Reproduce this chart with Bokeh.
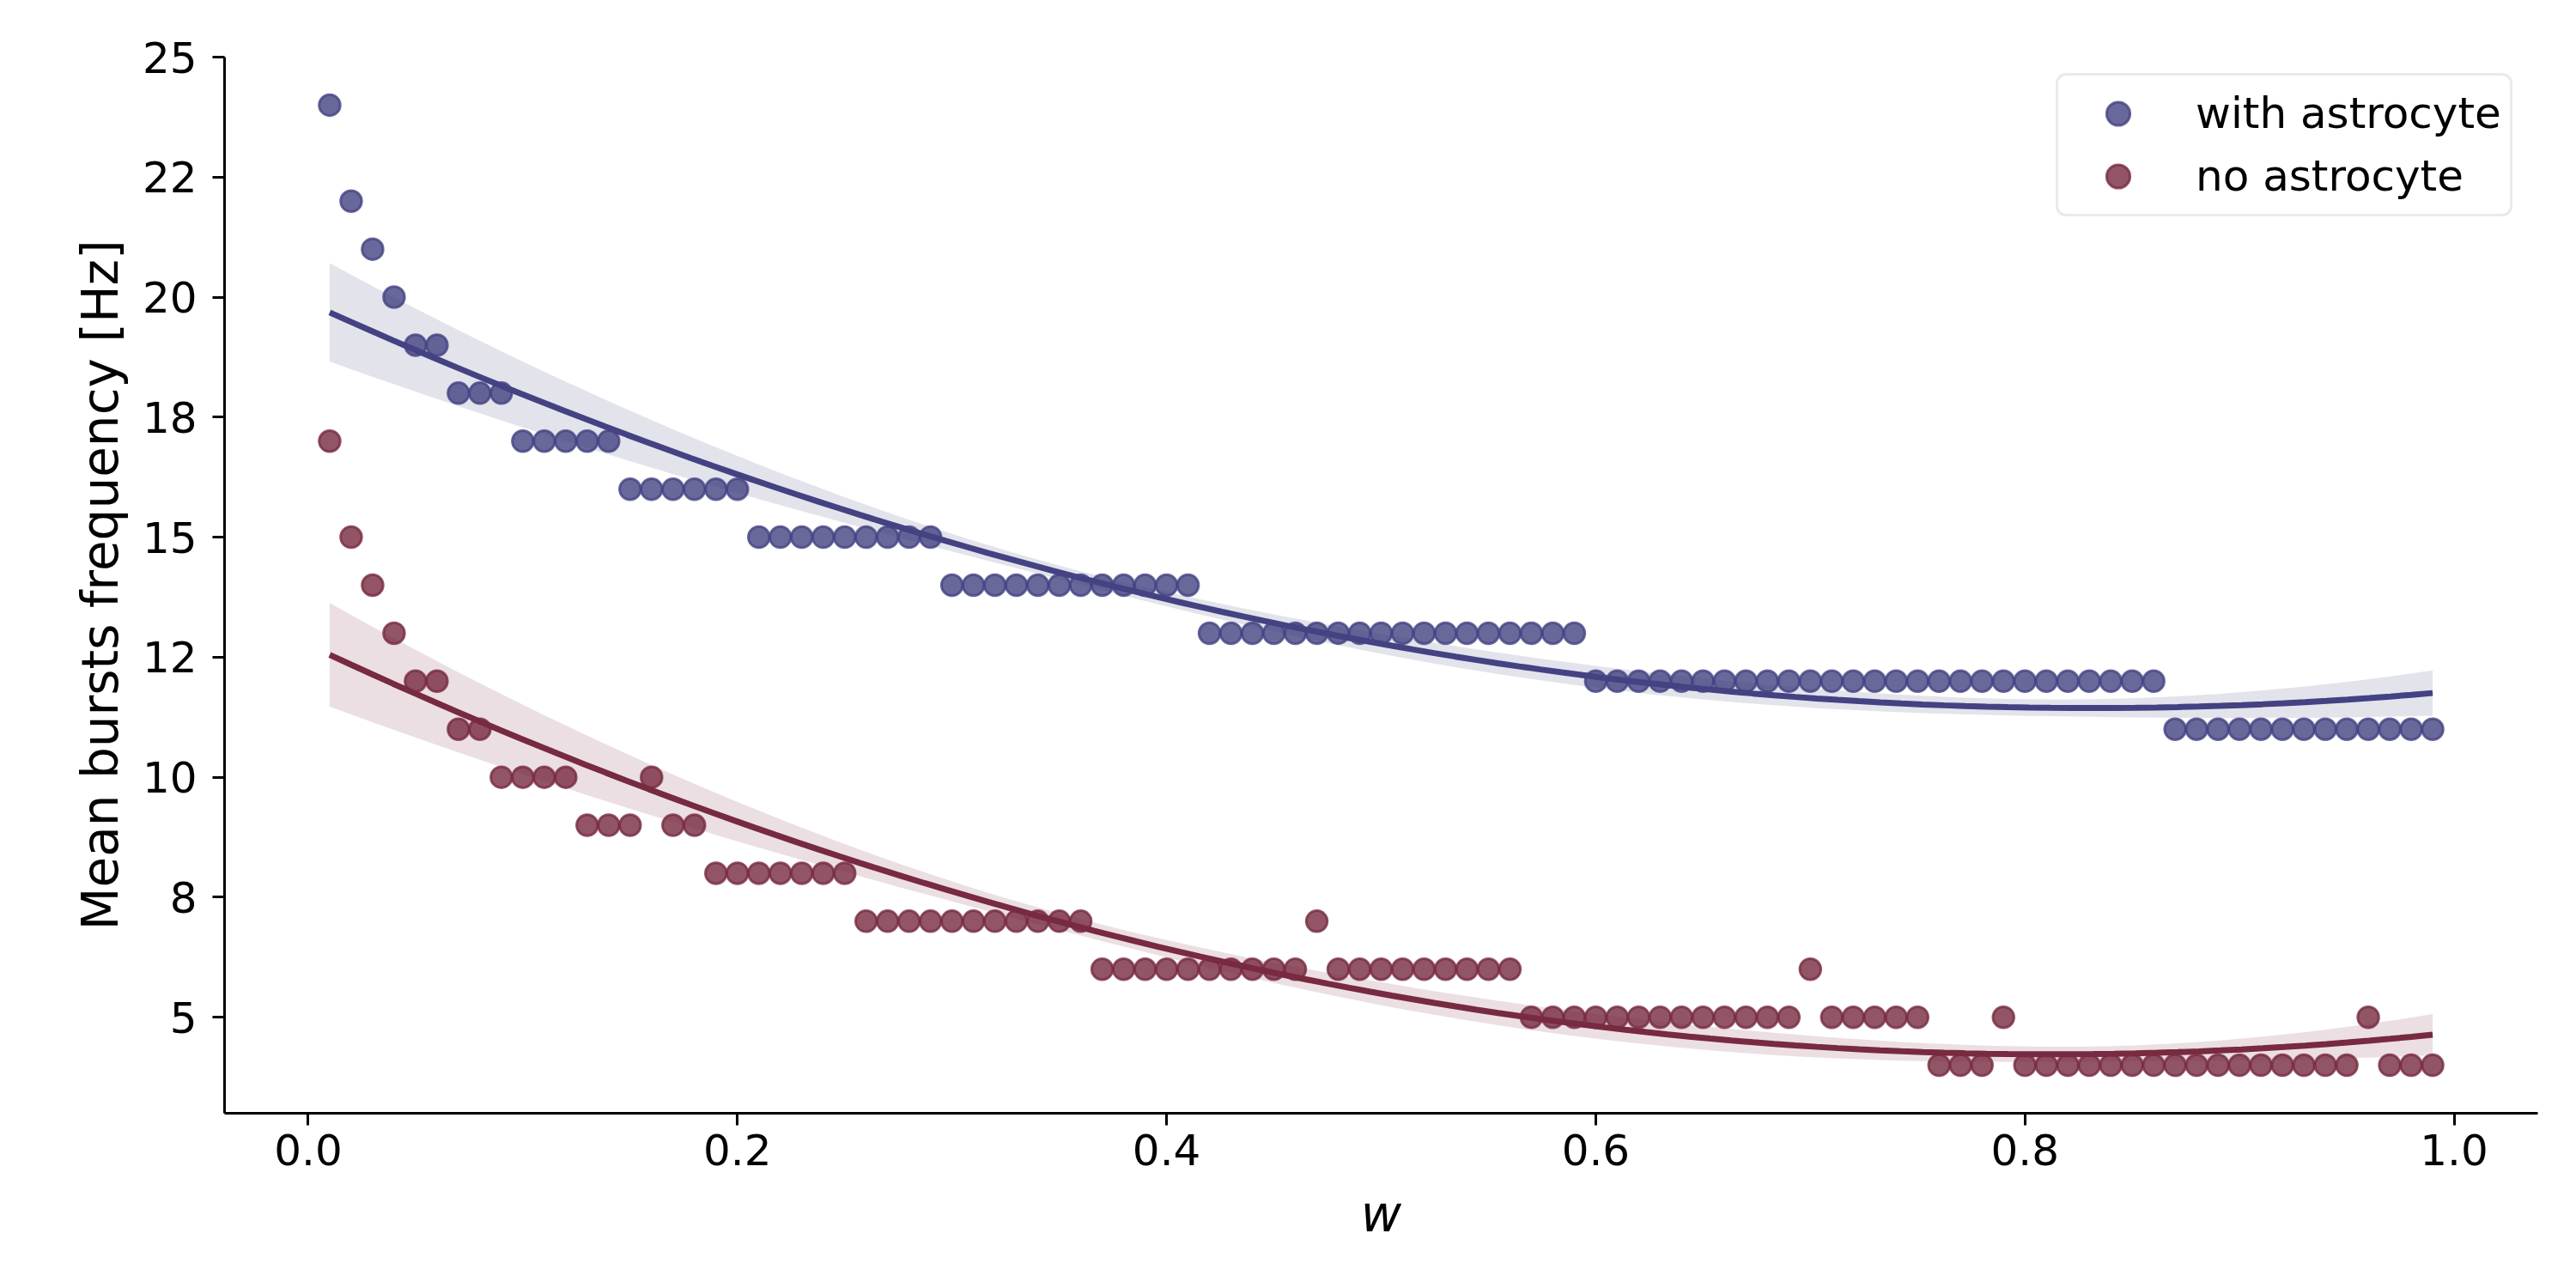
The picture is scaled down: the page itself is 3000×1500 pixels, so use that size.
import numpy as np
from bokeh.plotting import figure
from bokeh.models import FixedTicker, Legend, LegendItem
from bokeh.embed import file_html
from bokeh.resources import INLINE

# ---- data ----
w_values = [0.01, 0.02, 0.03, 0.04, 0.05, 0.06, 0.07, 0.08, 0.09, 0.10,
            0.11, 0.12, 0.13, 0.14, 0.15, 0.16, 0.17, 0.18, 0.19, 0.20,
            0.21, 0.22, 0.23, 0.24, 0.25, 0.26, 0.27, 0.28, 0.29, 0.30,
            0.31, 0.32, 0.33, 0.34, 0.35, 0.36, 0.37, 0.38, 0.39, 0.40,
            0.41, 0.42, 0.43, 0.44, 0.45, 0.46, 0.47, 0.48, 0.49, 0.50,
            0.51, 0.52, 0.53, 0.54, 0.55, 0.56, 0.57, 0.58, 0.59, 0.60,
            0.61, 0.62, 0.63, 0.64, 0.65, 0.66, 0.67, 0.68, 0.69, 0.70,
            0.71, 0.72, 0.73, 0.74, 0.75, 0.76, 0.77, 0.78, 0.79, 0.80,
            0.81, 0.82, 0.83, 0.84, 0.85, 0.86, 0.87, 0.88, 0.89, 0.90,
            0.91, 0.92, 0.93, 0.94, 0.95, 0.96, 0.97, 0.98, 0.99]

freq_with_astro = [24, 22, 21, 20, 19, 19, 18, 18, 18, 17,
                   17, 17, 17, 17, 16, 16, 16, 16, 16, 16,
                   15, 15, 15, 15, 15, 15, 15, 15, 15, 14,
                   14, 14, 14, 14, 14, 14, 14, 14, 14, 14,
                   14, 13, 13, 13, 13, 13, 13, 13, 13, 13,
                   13, 13, 13, 13, 13, 13, 13, 13, 13, 12,
                   12, 12, 12, 12, 12, 12, 12, 12, 12, 12,
                   12, 12, 12, 12, 12, 12, 12, 12, 12, 12,
                   12, 12, 12, 12, 12, 12, 11, 11, 11, 11,
                   11, 11, 11, 11, 11, 11, 11, 11, 11]

freq_no_astro = [17, 15, 14, 13, 12, 12, 11, 11, 10, 10,
                 10, 10, 9, 9, 9, 10, 9, 9, 8, 8,
                 8, 8, 8, 8, 8, 7, 7, 7, 7, 7,
                 7, 7, 7, 7, 7, 7, 6, 6, 6, 6,
                 6, 6, 6, 6, 6, 6, 7, 6, 6, 6,
                 6, 6, 6, 6, 6, 6, 5, 5, 5, 5,
                 5, 5, 5, 5, 5, 5, 5, 5, 5, 6,
                 5, 5, 5, 5, 5, 4, 4, 4, 5, 4,
                 4, 4, 4, 4, 4, 4, 4, 4, 4, 4,
                 4, 4, 4, 4, 4, 5, 4, 4, 4]

series_labels = ["with astrocyte", "no astrocyte"]
series_colors = ["#444282", "#772a40"]

x_ticks = [0.0, 0.2, 0.4, 0.6, 0.8, 1.0]
x_tick_labels = ["0.0", "0.2", "0.4", "0.6", "0.8", "1.0"]
y_ticks = [5, 7.5, 10, 12.5, 15, 17.5, 20, 22.5, 25]
y_tick_labels = ["5", "8", "10", "12", "15", "18", "20", "22", "25"]


def quad_fit(x, y, n_grid=100):
    """Order-2 polynomial fit with a robust (HC3) 95% confidence band."""
    x = np.asarray(x, float)
    y = np.asarray(y, float)
    X = np.column_stack([np.ones_like(x), x, x ** 2])
    XtX_inv = np.linalg.inv(X.T @ X)
    beta = XtX_inv @ X.T @ y
    resid = y - X @ beta
    h = np.einsum("ij,jk,ik->i", X, XtX_inv, X)
    meat = X.T @ (X * (resid ** 2 / (1 - h) ** 2)[:, None])
    cov = XtX_inv @ meat @ XtX_inv
    gx = np.linspace(x.min(), x.max(), n_grid)
    G = np.column_stack([np.ones_like(gx), gx, gx ** 2])
    fit = G @ beta
    se = np.sqrt(np.einsum("ij,jk,ik->i", G, cov, G))
    return gx, fit, fit - 1.96 * se, fit + 1.96 * se


FONT = "DejaVu Sans"

p = figure(frame_width=2694, frame_height=1230,
           x_range=(-0.039, 1.039), y_range=(3, 25),
           output_backend="svg", toolbar_location=None,
           min_border_left=261, min_border_right=29,
           min_border_top=66, min_border_bottom=188,
           background_fill_color="white", border_fill_color="white")
p.outline_line_color = None
p.xgrid.visible = False
p.ygrid.visible = False

scatters = []
for yv, col in zip([freq_with_astro, freq_no_astro], series_colors):
    r = p.scatter(w_values, yv, size=24.5, marker="circle",
                  fill_color=col, fill_alpha=0.8,
                  line_color=col, line_alpha=0.8, line_width=3)
    scatters.append(r)
    gx, fit, lo, hi = quad_fit(w_values, yv)
    p.varea(x=gx, y1=lo, y2=hi, fill_color=col, fill_alpha=0.15)
    p.line(gx, fit, line_color=col, line_width=7)

for ax, ticks, labels in [(p.xaxis[0], x_ticks, x_tick_labels),
                          (p.yaxis[0], y_ticks, y_tick_labels)]:
    ax.ticker = FixedTicker(ticks=ticks)
    ax.major_label_overrides = {t: l for t, l in zip(ticks, labels)}
    ax.minor_tick_line_color = None
    ax.major_tick_in = 0
    ax.major_tick_out = 14
    ax.major_tick_line_width = 3
    ax.major_tick_line_color = "black"
    ax.axis_line_width = 3
    ax.axis_line_color = "black"
    ax.major_label_text_font = FONT
    ax.major_label_text_font_size = "50px"
    ax.major_label_text_color = "black"
    ax.axis_label_text_font = FONT
    ax.axis_label_text_font_size = "58px"
    ax.axis_label_text_color = "black"

p.xaxis[0].axis_label = "w"
p.xaxis[0].axis_label_text_font_style = "italic"
p.xaxis[0].major_label_standoff = 10
p.xaxis[0].axis_label_standoff = 20
p.yaxis[0].axis_label = "Mean bursts frequency [Hz]"
p.yaxis[0].axis_label_text_font_style = "normal"
p.yaxis[0].major_label_standoff = 18
p.yaxis[0].axis_label_standoff = 12

legend = Legend(items=[LegendItem(label=lab, renderers=[r])
                       for lab, r in zip(series_labels, scatters)],
                location=(2133, 1044))
legend.label_text_font = FONT
legend.label_text_font_size = "50px"
legend.label_text_color = "black"
legend.glyph_width = 119
legend.glyph_height = 68
legend.label_standoff = 31
legend.padding = 10
legend.spacing = 5
legend.margin = 0
legend.border_line_color = "#d6d6d6"
legend.border_line_width = 3.3
legend.background_fill_color = "white"
legend.background_fill_alpha = 0.8
if "border_radius" in Legend.properties():
    legend.border_radius = 12
p.add_layout(legend)

open("out.html", "w").write(file_html(p, INLINE))
